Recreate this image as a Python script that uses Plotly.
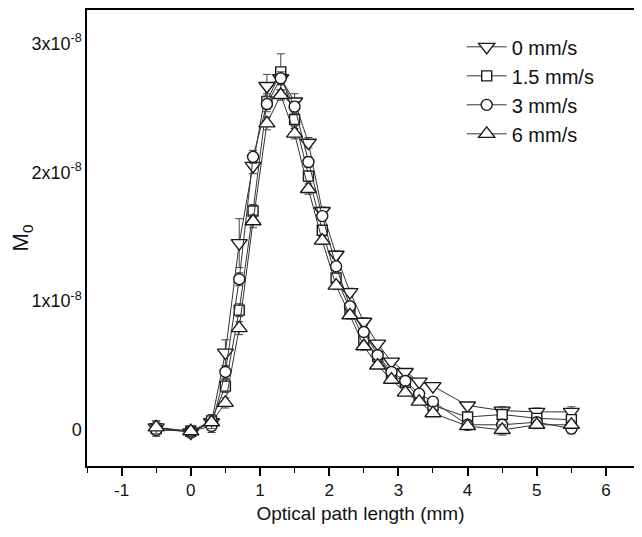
import plotly.graph_objects as go

SCALE = 1e-8

x_mm = [-0.5, 0, 0.3, 0.5, 0.7, 0.9, 1.1, 1.3, 1.5, 1.7, 1.9, 2.1, 2.3, 2.5, 2.7, 2.9, 3.1, 3.3, 3.5, 4.0, 4.5, 5.0, 5.5]

labels = ["0 mm/s", "1.5 mm/s", "3 mm/s", "6 mm/s"]

m0_v0 = [0.02, -0.02, 0.06, 0.60, 1.45, 2.05, 2.67, 2.73, 2.55, 2.23, 1.70, 1.36, 1.07, 0.84, 0.67, 0.53, 0.45, 0.375, 0.34, 0.19, 0.15, 0.14, 0.14]
m0_v15 = [0.01, -0.01, 0.07, 0.34, 0.93, 1.70, 2.55, 2.78, 2.41, 1.97, 1.55, 1.18, 0.94, 0.70, 0.57, 0.43, 0.37, 0.25, 0.19, 0.10, 0.12, 0.09, 0.08]
m0_v3 = [0.00, -0.01, 0.03, 0.45, 1.17, 2.12, 2.53, 2.73, 2.51, 2.08, 1.66, 1.27, 0.96, 0.76, 0.58, 0.45, 0.38, 0.28, 0.22, 0.04, 0.04, 0.06, 0.01]
m0_v6 = [0.02, -0.01, 0.06, 0.21, 0.79, 1.62, 2.38, 2.60, 2.30, 1.87, 1.47, 1.12, 0.89, 0.65, 0.50, 0.39, 0.29, 0.22, 0.13, 0.03, 0.00, 0.04, 0.04]

err_v0 = [0.05, 0.04, 0.04, 0.10, 0.19, 0.06, 0.09, 0.05, 0.06, 0.04, 0.03, 0.03, 0.03, 0.03, 0.02, 0.02, 0.02, 0.02, 0.02, 0.02, 0.03, 0.03, 0.04]
err_v15 = [0.05, 0.04, 0.05, 0.05, 0.05, 0.05, 0.06, 0.14, 0.05, 0.04, 0.03, 0.03, 0.03, 0.03, 0.02, 0.02, 0.02, 0.02, 0.02, 0.02, 0.06, 0.03, 0.04]
err_v3 = [0.05, 0.04, 0.05, 0.05, 0.05, 0.05, 0.06, 0.05, 0.04, 0.04, 0.03, 0.03, 0.03, 0.03, 0.02, 0.02, 0.02, 0.02, 0.03, 0.03, 0.03, 0.03, 0.04]
err_v6 = [0.05, 0.04, 0.05, 0.04, 0.05, 0.05, 0.05, 0.04, 0.04, 0.04, 0.03, 0.03, 0.03, 0.03, 0.02, 0.02, 0.02, 0.02, 0.02, 0.03, 0.04, 0.03, 0.03]

symbols = ["triangle-down", "square", "circle", "triangle-up"]
sizes = [14, 10, 11, 14]

x_tickvals = [-1, 0, 1, 2, 3, 4, 5, 6]
x_ticktext = ["-1", "0", "1", "2", "3", "4", "5", "6"]
y_tickvals = [0, 1, 2, 3]
y_ticktext = ["0", "1x10<sup>-8</sup>", "2x10<sup>-8</sup>", "3x10<sup>-8</sup>"]

series = [m0_v0, m0_v15, m0_v3, m0_v6]
errs = [err_v0, err_v15, err_v3, err_v6]

FONT = "Arial, Liberation Sans, sans-serif"
fig = go.Figure()
for lab, ys, es, sym, sz in zip(labels, series, errs, symbols, sizes):
    fig.add_trace(go.Scatter(
        x=x_mm, y=[v * SCALE for v in ys], name=lab, mode="lines+markers",
        line=dict(color="#333333", width=1),
        marker=dict(symbol=sym, size=sz, color="white", line=dict(width=1.4, color="#1a1a1a")),
        error_y=dict(type="data", array=[e * SCALE for e in es], visible=True,
                     color="#444444", thickness=1, width=4),
    ))

fig.update_layout(
    width=626, height=517,
    margin=dict(l=75, r=0, t=2, b=59),
    paper_bgcolor="white", plot_bgcolor="white",
    font=dict(family=FONT, color="#111111"),
    showlegend=True,
    legend=dict(x=0.685, y=0.962, xanchor="left", yanchor="top",
                bgcolor="rgba(0,0,0,0)", font=dict(size=20, family=FONT, color="#111111"),
                itemwidth=40, tracegroupgap=0),
    xaxis=dict(range=[-1.5, 6.405], tickmode="array", tickvals=x_tickvals, ticktext=x_ticktext,
               showline=True, linecolor="black", linewidth=1.5, mirror=True,
               ticks="outside", ticklen=8, tickwidth=1.5, tickcolor="black",
               minor=dict(dtick=0.5, tick0=0, ticks="outside", ticklen=5, tickwidth=1.2, tickcolor="black"),
               showgrid=False, zeroline=False,
               tickfont=dict(size=17, family=FONT),
               title=dict(text="Optical path length (mm)", font=dict(size=19, family=FONT), standoff=8)),
    yaxis=dict(range=[-0.28 * SCALE, 3.26 * SCALE],
               tickmode="array", tickvals=[v * SCALE for v in y_tickvals], ticktext=y_ticktext,
               showline=True, linecolor="black", linewidth=1.5, mirror=False,
               ticks="", showgrid=False, zeroline=False,
               tickfont=dict(size=18, family=FONT),
               title=dict(text="M<sub>0</sub>", font=dict(size=22, family=FONT), standoff=8)),
)

fig.write_html("out.html")
